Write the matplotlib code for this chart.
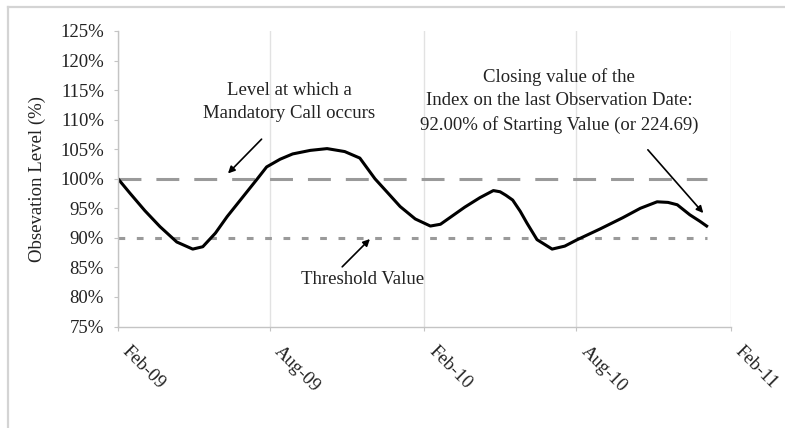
import matplotlib
matplotlib.use("Agg")
import matplotlib.pyplot as plt
from matplotlib.lines import Line2D
from matplotlib.ticker import FuncFormatter
from matplotlib.transforms import ScaledTranslation
import pandas as pd

plt.rcParams['font.family'] = ['Liberation Serif', 'DejaVu Serif']

# observation dates and index level (% of starting value)
dates = ["2009-02-01", "2009-02-15", "2009-03-05", "2009-03-23", "2009-04-12",
         "2009-05-01", "2009-05-13", "2009-05-28", "2009-06-11", "2009-06-29",
         "2009-07-17", "2009-07-28", "2009-08-13", "2009-08-28", "2009-09-18",
         "2009-10-08", "2009-10-29", "2009-11-16", "2009-12-04", "2009-12-20",
         "2010-01-03", "2010-01-21", "2010-02-08", "2010-02-20", "2010-03-03",
         "2010-03-21", "2010-04-08", "2010-04-24", "2010-05-02", "2010-05-09",
         "2010-05-17", "2010-05-26", "2010-06-03", "2010-06-15", "2010-07-03",
         "2010-07-18", "2010-08-02", "2010-08-29", "2010-09-25", "2010-10-16",
         "2010-11-05", "2010-11-18", "2010-11-29", "2010-12-14", "2010-12-26",
         "2011-01-03"]
level = [100.0, 97.6, 94.6, 91.9, 89.3,
         88.1, 88.5, 90.8, 93.6, 96.8,
         100.0, 102.0, 103.3, 104.2, 104.8,
         105.1, 104.6, 103.5, 100.0, 97.5,
         95.3, 93.2, 92.0, 92.3, 93.4,
         95.2, 96.8, 98.0, 97.8, 97.2,
         96.4, 94.5, 92.5, 89.7, 88.1,
         88.6, 89.7, 91.5, 93.4, 95.0,
         96.1, 96.0, 95.6, 93.9, 92.8,
         92.0]

call_level = 100
threshold = 90
tick_dates = ["2009-02-01", "2009-08-01", "2010-02-01", "2010-08-01", "2011-02-01"]
tick_labels = ["Feb-09", "Aug-09", "Feb-10", "Aug-10", "Feb-11"]
y_ticks = list(range(75, 126, 5))

x = pd.to_datetime(dates)
xt = pd.to_datetime(tick_dates)

fig = plt.figure(figsize=(7.85, 4.28), dpi=100)
ax = fig.add_axes([0.1503, 0.2371, 0.7809, 0.6905])

# outer frame
frame_col = "#d4d4d4"
fig.add_artist(Line2D([8/785, 1], [1-7/428, 1-7/428], color=frame_col, lw=1.6, transform=fig.transFigure))
fig.add_artist(Line2D([8/785, 8/785], [0, 1-7/428], color=frame_col, lw=1.6, transform=fig.transFigure))

ax.plot([x[0], x[-1]], [call_level, call_level], color="#9a9a9a", lw=2.2,
        dashes=(7.5, 4.9), dash_capstyle="butt")
ax.plot([x[0], x[-1]], [threshold, threshold], color="#9a9a9a", lw=2.2,
        dashes=(2.2, 3.8), dash_capstyle="butt")
ax.plot(x, level, color="black", lw=2.2, solid_joinstyle="round")

ax.set_xlim(xt[0], xt[-1])
ax.set_ylim(75, 125)
ax.set_yticks(y_ticks)
ax.yaxis.set_major_formatter(FuncFormatter(lambda v, p: f"{v:.0f}%"))
ax.set_xticks(xt)

for s in ["top", "right"]:
    ax.spines[s].set_visible(False)
for s in ["left", "bottom"]:
    ax.spines[s].set_color("#c4c4c4")
    ax.spines[s].set_linewidth(1.0)
ax.xaxis.grid(True, color="#e2e2e2", lw=1.0)
ax.set_axisbelow(True)
ax.tick_params(axis="both", colors="#c4c4c4", length=3, labelcolor="#222222", labelsize=13.5)
ax.tick_params(axis="x", pad=9)
ax.tick_params(axis="y", pad=7)

ax.set_xticklabels(tick_labels, rotation=-45, ha="left", va="top", rotation_mode="anchor")
shift = ScaledTranslation(13/100, 0, fig.dpi_scale_trans)
for lab in ax.get_xticklabels():
    lab.set_transform(lab.get_transform() + shift)

ax.set_ylabel("Obsevation Level (%)", fontsize=13.5, color="#222222", labelpad=10)

txt = dict(fontsize=13.5, color="#222222", ha="center", va="center", linespacing=1.48)
arrow = dict(arrowstyle="-|>", color="black", lw=1.2, mutation_scale=10, shrinkA=0, shrinkB=0)

ax.annotate("", xy=(pd.Timestamp("2009-06-12"), 100.9), xytext=(pd.Timestamp("2009-07-22"), 106.7),
            arrowprops=arrow)
ax.text(pd.Timestamp("2009-08-24"), 113.0, "Level at which a\nMandatory Call occurs", **txt)

ax.annotate("", xy=(pd.Timestamp("2009-11-28"), 89.8), xytext=(pd.Timestamp("2009-10-26"), 85.1),
            arrowprops=arrow)
ax.text(pd.Timestamp("2009-11-19"), 82.9, "Threshold Value", **txt)

ax.annotate("", xy=(pd.Timestamp("2010-12-30"), 94.2), xytext=(pd.Timestamp("2010-10-25"), 104.9),
            arrowprops=arrow)
ax.text(pd.Timestamp("2010-07-11"), 113.2,
        "Closing value of the\nIndex on the last Observation Date:\n92.00% of Starting Value (or 224.69)",
        **txt)

fig.savefig("out.png", dpi=100)
